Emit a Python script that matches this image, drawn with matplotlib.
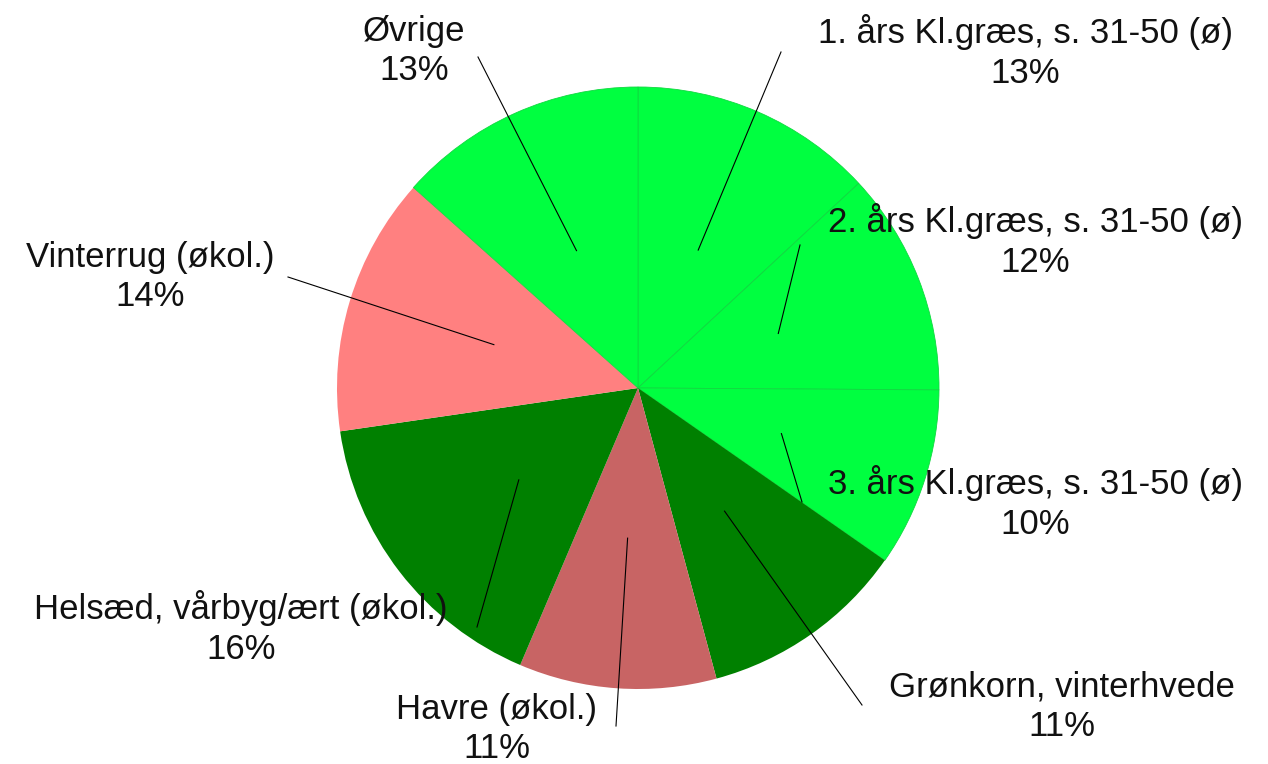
import matplotlib
matplotlib.use("Agg")
import matplotlib.pyplot as plt
import numpy as np

# slices, clockwise from 12 o'clock
crops = ['1. års Kl.græs, s. 31-50 (ø)', '2. års Kl.græs, s. 31-50 (ø)', '3. års Kl.græs, s. 31-50 (ø)',
         'Grønkorn, vinterhvede', 'Havre (økol.)', 'Helsæd, vårbyg/ært (økol.)',
         'Vinterrug (økol.)', 'Øvrige']
shares = [13.1, 12.0, 9.6, 11.1, 10.6, 16.3, 13.9, 13.4]
colors = ['#00FF40', '#00FF40', '#00FF40', '#008000', '#C86464', '#008000', '#FF8080', '#00FF40']

# label placement in pixel coords (x, y of the text block centre, end of leader line)
label_pos = [(1025, 52), (1035, 241), (1035, 503), (1062, 707), (497, 729), (241, 628), (150, 277), (414, 51)]
line_end = [(781, 52), (800, 245), (802, 502), (862, 705), (616, 726), (477, 627), (288, 277), (478, 57)]

W, H = 1268, 764
CENTER = (638, 388)
RADIUS = 301

plt.rcParams['font.family'] = ['Liberation Sans', 'DejaVu Sans']

fig = plt.figure(figsize=(W / 100, H / 100), dpi=100)
ax = fig.add_axes([0, 0, 1, 1])

# y axis flipped below -> counterclockwise in data reads clockwise on screen
wedges, _ = ax.pie(shares, colors=colors, startangle=-90, counterclock=True,
                   center=CENTER, radius=RADIUS, frame=True,
                   wedgeprops=dict(linewidth=0))
for w, c in zip(wedges, colors):
    if c == '#00FF40':
        w.set_edgecolor('#10D840')
        w.set_linewidth(0.6)

for w, name, share, (tx, ty), (lx, ly) in zip(wedges, crops, shares, label_pos, line_end):
    mid = np.deg2rad((w.theta1 + w.theta2) / 2)
    ix = CENTER[0] + 0.5 * RADIUS * np.cos(mid)
    iy = CENTER[1] + 0.5 * RADIUS * np.sin(mid)
    ax.plot([ix, lx], [iy, ly], color='black', lw=0.8, zorder=3)
    ax.text(tx, ty, f"{name}\n{round(share)}%", ha='center', va='center',
            fontsize=25, linespacing=1.25, color='#111111', zorder=4)

ax.set_xlim(0, W)
ax.set_ylim(H, 0)
ax.axis('off')

fig.savefig('out.png', dpi=100, facecolor='white')
